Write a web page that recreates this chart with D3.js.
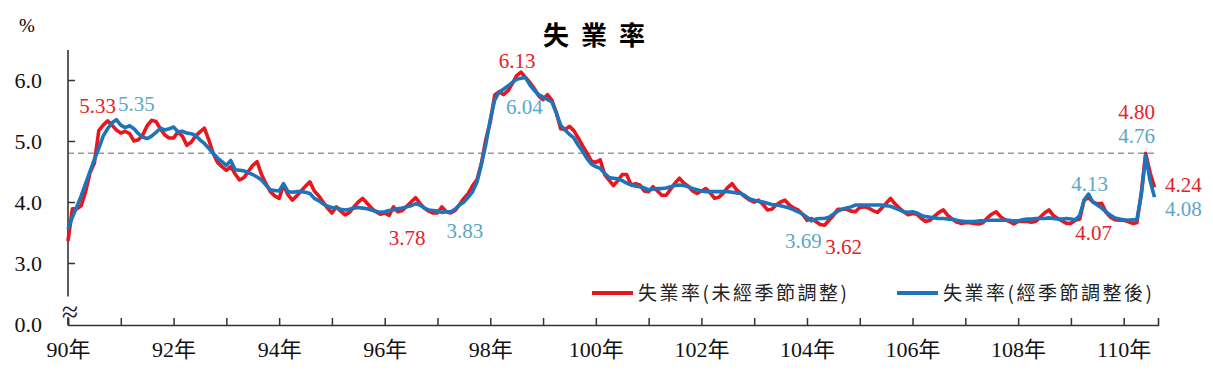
<!DOCTYPE html>
<html>
<head>
<meta charset="utf-8">
<script src="https://cdn.jsdelivr.net/npm/d3@7"></script>
<style>
  body { margin: 0; background: #fff; }
  svg { display: block; }
</style>
</head>
<body>
<svg id="drawing_region"></svg>
<script>
// monthly unemployment rate, Jan 90 (2001) .. Aug 110 (2021)
const startYear = 90;
const unadjusted = [
  3.36, 3.89, 3.89, 3.94, 4.17, 4.48, 4.64, 5.17, 5.26, 5.33, 5.26, 5.18,
  5.13, 5.16, 5.12, 5.00, 5.02, 5.10, 5.25, 5.34, 5.32, 5.20, 5.10, 5.05,
  5.05, 5.15, 5.08, 4.93, 4.98, 5.08, 5.15, 5.21, 5.02, 4.80, 4.65, 4.58,
  4.52, 4.58, 4.46, 4.36, 4.40, 4.50, 4.60, 4.66, 4.45, 4.30, 4.17, 4.10,
  4.06, 4.28, 4.12, 4.03, 4.10, 4.18, 4.26, 4.33, 4.18, 4.10, 4.00, 3.90,
  3.82, 3.92, 3.85, 3.79, 3.83, 3.92, 4.00, 4.06, 3.98, 3.90, 3.84, 3.80,
  3.82, 3.78, 3.92, 3.84, 3.86, 3.93, 4.00, 4.07, 3.98, 3.90, 3.85, 3.82,
  3.82, 3.92, 3.84, 3.82, 3.86, 3.96, 4.06, 4.14, 4.27, 4.37, 4.64, 5.03,
  5.31, 5.75, 5.81, 5.76, 5.82, 5.94, 6.07, 6.13, 6.04, 5.96, 5.86, 5.74,
  5.68, 5.76, 5.67, 5.47, 5.20, 5.19, 5.24, 5.17, 5.05, 4.92, 4.80, 4.67,
  4.65, 4.69, 4.45, 4.36, 4.27, 4.35, 4.45, 4.45, 4.28, 4.30, 4.28, 4.18,
  4.17, 4.25, 4.18, 4.11, 4.11, 4.21, 4.31, 4.39, 4.31, 4.26, 4.18, 4.14,
  4.18, 4.22, 4.15, 4.06, 4.08, 4.15, 4.24, 4.30, 4.20, 4.14, 4.08, 4.03,
  4.00, 4.03, 3.96, 3.87, 3.88, 3.95, 4.00, 4.03, 3.95, 3.90, 3.87, 3.80,
  3.70, 3.73, 3.68, 3.63, 3.62, 3.70, 3.78, 3.88, 3.88, 3.88, 3.85, 3.84,
  3.91, 3.92, 3.90, 3.86, 3.83, 3.90, 3.98, 4.06, 3.97, 3.90, 3.84, 3.79,
  3.81, 3.80, 3.73, 3.68, 3.70, 3.77, 3.83, 3.87, 3.78, 3.72, 3.67, 3.65,
  3.66, 3.66, 3.65, 3.64, 3.66, 3.74, 3.80, 3.84, 3.76, 3.71, 3.68, 3.64,
  3.68, 3.68, 3.68, 3.67, 3.68, 3.75, 3.82, 3.87, 3.78, 3.73, 3.69, 3.65,
  3.65, 3.70, 3.72, 4.03, 4.07, 4.00, 3.97, 3.98, 3.83, 3.75, 3.71, 3.70,
  3.70, 3.68, 3.65, 3.66, 4.15, 4.80, 4.48, 4.24
];
const adjusted = [
  3.55, 3.75, 3.92, 4.10, 4.30, 4.50, 4.70, 4.88, 5.08, 5.20, 5.30, 5.35,
  5.26, 5.22, 5.25, 5.20, 5.12, 5.06, 5.04, 5.08, 5.14, 5.21, 5.18, 5.20,
  5.23, 5.15, 5.16, 5.13, 5.12, 5.09, 5.02, 4.96, 4.88, 4.80, 4.72, 4.66,
  4.60, 4.68, 4.53, 4.52, 4.51, 4.48, 4.45, 4.41, 4.36, 4.28, 4.20, 4.19,
  4.18, 4.30, 4.17, 4.16, 4.17, 4.17, 4.16, 4.14, 4.06, 4.02, 3.97, 3.93,
  3.91, 3.90, 3.88, 3.87, 3.88, 3.90, 3.91, 3.90, 3.89, 3.87, 3.85, 3.83,
  3.84, 3.86, 3.87, 3.89, 3.90, 3.92, 3.94, 3.97, 3.95, 3.90, 3.87, 3.86,
  3.85, 3.83, 3.84, 3.84, 3.88, 3.95, 4.00, 4.08, 4.17, 4.33, 4.62, 4.95,
  5.35, 5.67, 5.80, 5.85, 5.90, 5.96, 6.01, 6.03, 6.04, 5.92, 5.83, 5.76,
  5.72, 5.68, 5.64, 5.46, 5.26, 5.18, 5.11, 5.05, 4.93, 4.83, 4.71, 4.62,
  4.58, 4.55, 4.47, 4.40, 4.39, 4.38, 4.35, 4.31, 4.28, 4.26, 4.25, 4.23,
  4.20, 4.21, 4.22, 4.22, 4.23, 4.25, 4.27, 4.28, 4.27, 4.25, 4.22, 4.20,
  4.18, 4.17, 4.17, 4.17, 4.17, 4.17, 4.17, 4.16, 4.15, 4.14, 4.10, 4.05,
  4.03, 4.01, 4.00, 3.98, 3.96, 3.95, 3.94, 3.92, 3.90, 3.87, 3.84, 3.80,
  3.75, 3.69, 3.72, 3.73, 3.73, 3.75, 3.80, 3.85, 3.88, 3.90, 3.92, 3.95,
  3.95, 3.95, 3.95, 3.95, 3.95, 3.95, 3.94, 3.93, 3.90, 3.87, 3.84, 3.83,
  3.84, 3.82, 3.78, 3.76, 3.75, 3.74, 3.73, 3.73, 3.72, 3.72, 3.70, 3.69,
  3.68, 3.68, 3.68, 3.69, 3.69, 3.70, 3.70, 3.70, 3.70, 3.70, 3.70, 3.69,
  3.69, 3.71, 3.72, 3.72, 3.73, 3.73, 3.73, 3.74, 3.73, 3.72, 3.72, 3.73,
  3.72, 3.71, 3.78, 4.03, 4.13, 4.00, 3.95, 3.90, 3.84, 3.78, 3.74, 3.72,
  3.71, 3.70, 3.71, 3.71, 4.11, 4.76, 4.35, 4.08
];
const yTicks = [3, 4, 5, 6];
const xTickYears = d3.range(90, 111);
const xLabelYears = d3.range(90, 111, 2);
const refLine = 4.80;
const seriesNames = ['失業率(未經季節調整)', '失業率(經季節調整後)'];
// annotated points: series index, month index, label offset
const notes = [
  {s: 0, m: 9,   dx: -10, dy: -8},
  {s: 1, m: 11,  dx: 20,  dy: -9},
  {s: 0, m: 103, dx: -4,  dy: -4},
  {s: 1, m: 104, dx: -1,  dy: 36},
  {s: 0, m: 73,  dx: 18,  dy: 30},
  {s: 1, m: 85,  dx: 23,  dy: 26},
  {s: 1, m: 169, dx: -8,  dy: 27},
  {s: 0, m: 172, dx: 19,  dy: 29},
  {s: 1, m: 232, dx: 1,   dy: -3},
  {s: 0, m: 232, dx: 5,   dy: 42},
  {s: 0, m: 245, dx: -9,  dy: -34},
  {s: 1, m: 245, dx: -9,  dy: -13},
  {s: 0, m: 247, dx: 29,  dy: 5},
  {s: 1, m: 247, dx: 29,  dy: 19}
];

class UnemploymentChart {
  constructor( config ) {
    this.config = config;
    this.init();
  }

  init() {
    let self = this;
    self.svg = d3.select(self.config.parent)
      .attr('width', self.config.width)
      .attr('height', self.config.height);

    self.x = d3.scaleLinear()
      .domain([90, 110.65])
      .range([68, 1158]);
    self.y = d3.scaleLinear()
      .domain([3, 6])
      .range([263, 80]);

    self.lineColors = ['#e8161e', '#1f74b9'];
    self.labelColors = ['#e3222a', '#5aa8c9'];
    self.numFont = "'Liberation Serif', 'Times New Roman', serif";
    self.cjkFont = "'Noto Sans CJK TC', 'Noto Sans CJK SC', sans-serif";
  }

  render() {
    let self = this;
    const axisY = 325;
    const xAt = m => self.x(startYear + m / 12);

    // title and unit
    self.svg.append('text')
      .attr('x', 600).attr('y', 45)
      .attr('text-anchor', 'middle')
      .style('font-family', self.cjkFont)
      .style('font-weight', 700)
      .style('font-size', '26px')
      .style('letter-spacing', '12px')
      .text('失業率');
    self.svg.append('text')
      .attr('x', 27).attr('y', 32)
      .attr('text-anchor', 'middle')
      .style('font-family', self.numFont)
      .style('font-size', '19px')
      .text('%');

    // reference line
    self.svg.append('line')
      .attr('x1', self.x.range()[0]).attr('x2', self.x.range()[1])
      .attr('y1', self.y(refLine)).attr('y2', self.y(refLine))
      .attr('stroke', '#9a9a9a')
      .attr('stroke-width', 1.6)
      .attr('stroke-dasharray', '6,4');

    // y axis
    const yAxis = d3.axisLeft(self.y)
      .tickValues(yTicks)
      .tickSize(-7)
      .tickPadding(26)
      .tickFormat(d3.format('.1f'));
    const gy = self.svg.append('g')
      .attr('transform', `translate(${self.x.range()[0]},0)`)
      .call(yAxis);
    gy.select('.domain').remove();
    gy.selectAll('line').attr('stroke', '#333').attr('stroke-width', 1.5);
    gy.selectAll('text')
      .style('font-family', self.numFont)
      .style('font-size', '22px')
      .attr('fill', '#111');

    const x0 = self.x.range()[0];
    self.svg.append('line')
      .attr('x1', x0).attr('x2', x0)
      .attr('y1', self.y(6.49)).attr('y2', self.y(2.45))
      .attr('stroke', '#333').attr('stroke-width', 1.6);
    self.svg.append('line')
      .attr('x1', x0).attr('x2', x0)
      .attr('y1', 317).attr('y2', axisY)
      .attr('stroke', '#333').attr('stroke-width', 1.6);
    self.svg.append('text')
      .attr('x', x0 + 2).attr('y', 322)
      .attr('text-anchor', 'middle')
      .style('font-family', self.numFont)
      .style('font-size', '30px')
      .attr('fill', '#222')
      .text('≈');
    self.svg.append('text')
      .attr('x', x0 - 26).attr('y', axisY)
      .attr('dy', '0.32em')
      .attr('text-anchor', 'end')
      .style('font-family', self.numFont)
      .style('font-size', '22px')
      .attr('fill', '#111')
      .text('0.0');

    // x axis
    const xAxis = d3.axisBottom(self.x)
      .tickValues(xTickYears)
      .tickSize(-7)
      .tickPadding(16)
      .tickFormat(d => xLabelYears.includes(d) ? d + '年' : '');
    const gx = self.svg.append('g')
      .attr('transform', `translate(0,${axisY})`)
      .call(xAxis);
    gx.select('.domain').attr('stroke', '#333').attr('stroke-width', 1.6);
    gx.selectAll('line').attr('stroke', '#333').attr('stroke-width', 1.5);
    gx.selectAll('text')
      .style('font-family', self.numFont + ", 'Noto Sans CJK TC'")
      .style('font-size', '22px')
      .attr('fill', '#111');

    // lines
    const line = d3.line()
      .x((d, i) => xAt(i))
      .y(d => self.y(d));
    [unadjusted, adjusted].forEach((data, k) => {
      self.svg.append('path')
        .datum(data)
        .attr('d', line)
        .attr('fill', 'none')
        .attr('stroke', self.lineColors[k])
        .attr('stroke-width', 3.6)
        .attr('stroke-linejoin', 'round');
    });

    // value labels
    const series = [unadjusted, adjusted];
    self.svg.selectAll('text.note')
      .data(notes)
      .enter()
      .append('text')
      .attr('class', 'note')
      .attr('x', d => xAt(d.m) + d.dx)
      .attr('y', d => self.y(series[d.s][d.m]) + d.dy)
      .attr('text-anchor', 'middle')
      .style('font-family', self.numFont)
      .style('font-size', '21px')
      .attr('fill', d => self.labelColors[d.s])
      .text(d => d3.format('.2f')(series[d.s][d.m]));

    // legend
    const legendX = [592, 897];
    const legend = self.svg.selectAll('g.legend')
      .data(seriesNames)
      .enter()
      .append('g')
      .attr('class', 'legend')
      .attr('transform', (d, i) => `translate(${legendX[i]},293)`);
    legend.append('line')
      .attr('x1', 0).attr('x2', 41)
      .attr('stroke', (d, i) => self.lineColors[i])
      .attr('stroke-width', 4);
    legend.append('text')
      .attr('x', 46)
      .attr('dy', '0.36em')
      .style('font-family', self.cjkFont)
      .style('font-size', '19px')
      .style('letter-spacing', '2.5px')
      .attr('fill', '#222')
      .text(d => d);
  }
}

const chart = new UnemploymentChart({
  parent: '#drawing_region',
  width: 1213,
  height: 370
});
chart.render();
</script>
</body>
</html>
